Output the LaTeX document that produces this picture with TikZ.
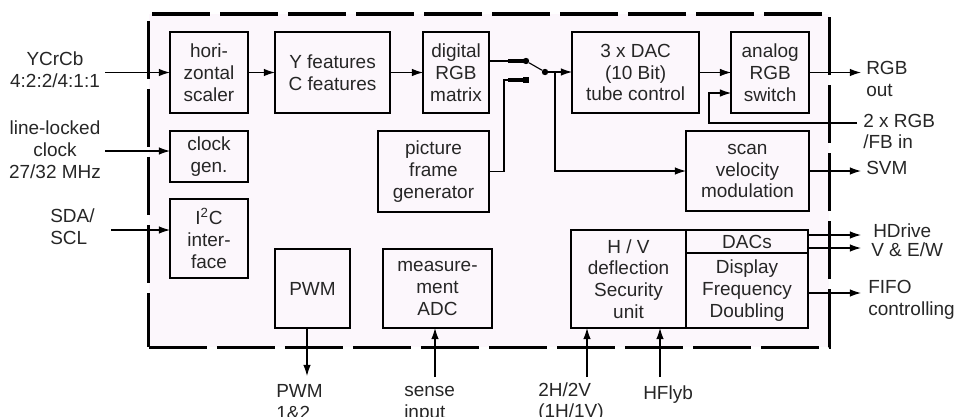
\documentclass[tikz,border=0pt]{standalone}
\usepackage{fontspec}
\setmainfont{Liberation Sans}
\usetikzlibrary{arrows.meta, positioning}
\definecolor{chipfill}{HTML}{FCF7FC}
\definecolor{inkgrey}{HTML}{262626}
\tikzset{
  >={Latex[length=2.8mm, width=1.9mm]},
  box/.style={rectangle, draw=black, line width=1.1pt, align=center, inner sep=1pt, outer sep=0pt,
              text=inkgrey, font=\fontsize{13.5}{15.5}\selectfont},
  rowbox/.style={box, minimum height=2.025cm},
  chip/.style={rectangle, draw=black, fill=chipfill, line width=2.2pt,
               dash pattern=on 1.45cm off 0.25cm},
  wire/.style={line width=0.8pt, draw=black},
  flow/.style={->, wire},
  stub/.style={line width=2.2pt, draw=black},
  contact/.style={circle, fill=black, inner sep=0pt, minimum size=0.16cm},
  contactsq/.style={rectangle, fill=black, inner sep=0pt, minimum size=0.16cm},
  lbl/.style={align=left, inner sep=0pt, text=inkgrey, font=\fontsize{13.5}{15.5}\selectfont},
}
\begin{document}
\begin{tikzpicture}[x=0.025cm, y=-0.025cm]
  \useasboundingbox (0,0) rectangle (956,416);
  \node[chip, minimum width=17cm, minimum height=8.325cm] (ic) at (489,180.5) {};
  % top row
  \node[rowbox, minimum width=1.95cm] (scaler) at (209,72.5) {hori-\\zontal\\scaler};
  \node[rowbox, minimum width=2.875cm, right=0.675cm of scaler] (feat) {Y features\\C features};
  \node[rowbox, minimum width=1.65cm, right=0.825cm of feat] (matrix) {digital\\RGB\\matrix};
  \node[rowbox, minimum width=3.175cm, right=2.075cm of matrix] (dac) {3 x DAC\\(10 Bit)\\tube control};
  \node[rowbox, minimum width=1.95cm, right=0.8cm of dac] (aswitch) {analog\\RGB\\switch};
  % left column and middle
  \node[box, minimum width=1.95cm, minimum height=1.275cm] (clock) at (209,156.5) {clock\\gen.};
  \node[box, minimum width=1.95cm, minimum height=1.975cm] (i2c) at (209,238.5) {I\textsuperscript{2}C\\inter-\\face};
  \node[box, minimum width=2.775cm, minimum height=2.025cm] (pfg) at (433.5,171.5) {picture\\frame\\generator};
  \node[box, minimum width=3.075cm, minimum height=2cm] (svm) at (747.5,171) {scan\\velocity\\modulation};
  % bottom row
  \node[box, minimum width=1.875cm, minimum height=1.975cm] (pwm) at (312.5,288.5) {PWM};
  \node[box, minimum width=2.725cm, minimum height=1.975cm] (adc) at (437.5,288.5) {measure-\\ment\\ADC};
  \node[box, minimum width=2.875cm, minimum height=2.45cm] (hv) at (628.5,279) {H / V\\deflection\\Security\\unit};
  \node[box, minimum width=3.05cm, minimum height=0.575cm, anchor=north west] (dacs) at (hv.north east) {DACs};
  \node[box, minimum width=3.05cm, minimum height=1.875cm, below=0cm of dacs] (dfd) {Display\\Frequency\\Doubling};

  % switch
  \node[contact] (swa) at (526,61) {};
  \node[contactsq] (swb) at (526,80) {};
  \node[contact] (swc) at (545,72) {};
  \coordinate (tap) at (555,72);
  \draw[wire] (matrix.east |- swa) -- (swa);
  \draw[stub] ([xshift=-0.45cm]swa.center) -- (swa.center);
  \draw[wire] (pfg.east) -- ++(15,0) |- (swb);
  \draw[stub] ([xshift=-0.45cm]swb.center) -- (swb.center);
  \draw[wire] (swa) -- (swc);
  \draw[flow] (swc) -- (swc -| dac.west);
  \draw[flow] (tap) |- (svm);

  % inputs
  \coordinate (yuvin) at (105,72.5);
  \coordinate (clkin) at (105,151);
  \coordinate (sdain) at (111,230);
  \coordinate (rgbin) at (857,123);
  \draw[flow] (yuvin) -- (scaler);
  \draw[flow] (clkin) -- (clkin -| clock.west);
  \draw[flow] (sdain) -- (sdain -| i2c.west);
  \draw[flow] (scaler) -- (feat);
  \draw[flow] (feat) -- (matrix);
  \draw[flow] (dac) -- (aswitch);
  \draw[flow] (rgbin) -- ++(-148,0) |- ([yshift=-0.5125cm]aswitch.west);

  % outputs
  \coordinate (rgbout) at (861,72.5);
  \coordinate (svmout) at (861,171);
  \coordinate (hdrvout) at (861,235);
  \coordinate (vewout) at (861,248);
  \coordinate (fifoout) at (861,293);
  \draw[flow] (aswitch) -- (rgbout);
  \draw[flow] (svm) -- (svmout);
  \draw[flow] (dacs.east |- hdrvout) -- (hdrvout);
  \draw[flow] (dacs.east |- vewout) -- (vewout);
  \draw[flow] (dfd.east |- fifoout) -- (fifoout);

  % bottom pins
  \coordinate (pwmout) at (307,376);
  \coordinate (sensein) at (435,377);
  \coordinate (syncin) at (587,377);
  \coordinate (flybin) at (660,377);
  \draw[flow] (pwmout |- pwm.south) -- (pwmout);
  \draw[flow] (sensein) -- (sensein |- adc.south);
  \draw[flow] (syncin) -- (syncin |- hv.south);
  \draw[flow] (flybin) -- (flybin |- hv.south);

  % labels
  \node[lbl, align=center] (yuvlbl) at (55,69.5) {YCrCb\\4:2:2/4:1:1};
  \node[lbl, align=center] (clklbl) at (55,150) {line-locked\\clock\\27/32 MHz};
  \node[lbl, anchor=west] (sdalbl) at (50,226.5) {SDA/\\SCL};
  \node[lbl, anchor=west] (rgblbl) at (866,79) {RGB\\out};
  \node[lbl, anchor=west] (rgbinlbl) at (863,131.5) {2 x RGB\\/FB in};
  \node[lbl, anchor=west] (svmlbl) at (866,168) {SVM};
  \node[lbl, anchor=west] (hdrvlbl) at (873,231) {HDrive};
  \node[lbl, anchor=west] (vewlbl) at (871,250) {V \& E/W};
  \node[lbl, anchor=west] (fifolbl) at (868,299.5) {FIFO\\controlling};
  \node[lbl, anchor=north west] (pwmlbl) at (276,384) {PWM\\1\&2};
  \node[lbl, anchor=north west] (senselbl) at (404,386) {sense\\input};
  \node[lbl, anchor=north west] (synclbl) at (538,382) {2H/2V\\(1H/1V)};
  \node[lbl, anchor=north west] (flyblbl) at (643,385) {HFlyb};
\end{tikzpicture}
\end{document}
